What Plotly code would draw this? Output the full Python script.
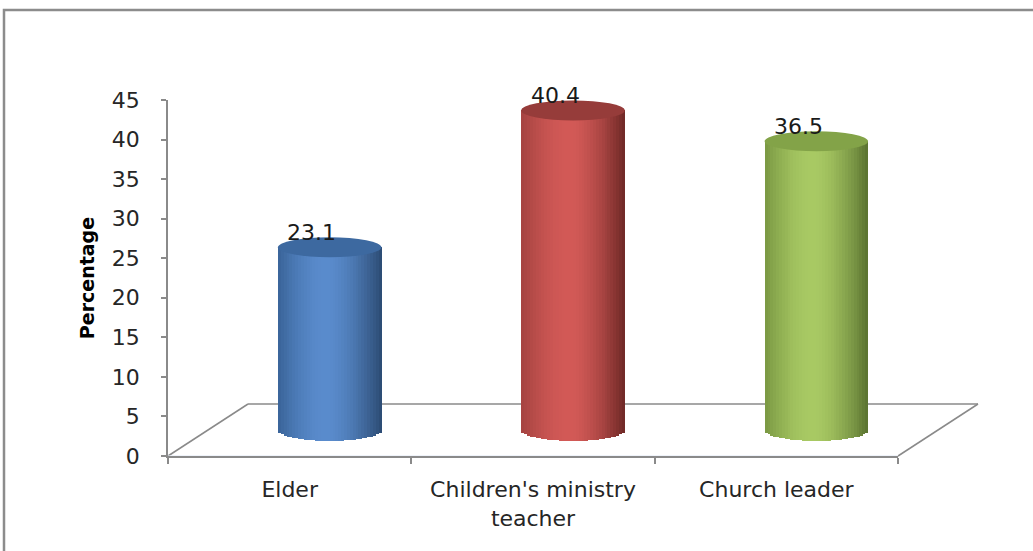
import numpy as np
import plotly.graph_objects as go

# ---------------- data ----------------
categories = ["Elder", "Children's ministry<br>teacher", "Church leader"]
values = [23.1, 40.4, 36.5]
labels = ["23.1", "40.4", "36.5"]
y_ticks = [0, 5, 10, 15, 20, 25, 30, 35, 40, 45]

# colour ramps (left edge, highlight, right edge) and cap colour per cylinder
side_left = ["#3A6499", "#A54341", "#7A9843"]
side_mid = ["#5A8CCD", "#D35A57", "#A9CA64"]
side_right = ["#2C4B73", "#6E2826", "#5A7330"]
cap_col = ["#3D69A0", "#963C3A", "#83A348"]

# ---------------- geometry (pixels) ----------------
W, H = 1033, 551
left_px, right_px = 168, 980       # plot area x
top_px, bottom_px = 74, 456        # plot area y
front_w = 730                      # width of front axis
front_h = 356                      # height of 0..45 on front axis
depth = (80, -52)                  # floor depth vector in px
pw, ph = right_px - left_px, bottom_px - top_px
pxu = front_h / 45.0               # px per unit

def px2paper(x, y):
    return (x - left_px) / pw, (bottom_px - y) / ph

bar_w = 0.425
n_slices = 36
cap_h = 10 / pxu
bot_h = 11 / pxu


def hex2rgb(h):
    h = h.lstrip("#")
    return np.array([int(h[i:i + 2], 16) for i in (0, 2, 4)], float)


def ramp(c0, c1, c2, u):
    # u in [-1,1]; highlight slightly left of centre
    a, b, c = hex2rgb(c0), hex2rgb(c1), hex2rgb(c2)
    pk = -0.05
    if u <= pk:
        t = (u + 1) / (pk + 1)
        t = np.sin(t * np.pi / 2)
        col = a + (b - a) * t
    else:
        t = (u - pk) / (1 - pk)
        t = t ** 1.6
        col = b + (c - b) * t
    return "rgb(%d,%d,%d)" % tuple(np.clip(col, 0, 255))


fig = go.Figure()

# invisible trace on front axes to establish category axis
fig.add_trace(go.Bar(x=categories, y=[0, 0, 0], xaxis="x", yaxis="y",
                     marker=dict(color="rgba(0,0,0,0)"), showlegend=False,
                     hoverinfo="skip"))

xs = list(range(len(values)))
sw = bar_w / n_slices
for i in range(n_slices):
    u = -1 + (i + 0.5) * 2 / n_slices
    base = -bot_h * np.sqrt(max(0.0, 1 - u * u))
    cols = [ramp(side_left[k], side_mid[k], side_right[k], u) for k in xs]
    fig.add_trace(go.Bar(
        x=xs, y=[v - base for v in values], base=[base] * len(values),
        offset=-bar_w / 2 + i * sw, width=sw * 1.08,
        marker=dict(color=cols, line=dict(width=0)),
        xaxis="x2", yaxis="y2", showlegend=False, hoverinfo="skip"))

shapes = []
for k, v in enumerate(values):
    shapes.append(dict(type="circle", xref="x2", yref="y2",
                       x0=k - bar_w / 2, x1=k + bar_w / 2,
                       y0=v - cap_h, y1=v + cap_h,
                       fillcolor=cap_col[k], line=dict(width=0), layer="above"))

# floor parallelogram (front edge is the x axis line)
fl = "#8A8A8A"
x0f, yf = left_px, bottom_px
x1f = left_px + front_w
pts = [((x0f, yf), (x0f + depth[0], yf + depth[1])),
       ((x0f + depth[0], yf + depth[1]), (x1f + depth[0], yf + depth[1])),
       ((x1f, yf), (x1f + depth[0], yf + depth[1]))]
for (a, b) in pts:
    xa, ya = px2paper(*a)
    xb, yb = px2paper(*b)
    shapes.append(dict(type="line", xref="paper", yref="paper",
                       x0=xa, y0=ya, x1=xb, y1=yb,
                       line=dict(color=fl, width=1.5), layer="below"))

# outer frame
fx0, fy0 = px2paper(4, 10)
fx1, fy1 = px2paper(W + 20, H + 20)
shapes.append(dict(type="rect", xref="paper", yref="paper",
                   x0=fx0, y0=fy1, x1=fx1, y1=fy0,
                   line=dict(color="#8C8C8C", width=2.5), layer="below"))

annotations = []
for k, v in enumerate(values):
    annotations.append(dict(x=k, y=v + cap_h, xref="x2", yref="y2",
                            text=labels[k], showarrow=False,
                            xshift=-18, yshift=5, yanchor="middle",
                            font=dict(family="DejaVu Sans", size=22,
                                      color="#1A1A1A")))

font_main = dict(family="DejaVu Sans", size=22, color="#262626")

fig.update_layout(
    width=W, height=H,
    margin=dict(l=left_px, r=W - right_px, t=top_px, b=H - bottom_px),
    paper_bgcolor="white", plot_bgcolor="rgba(0,0,0,0)",
    barmode="overlay", bargap=0,
    showlegend=False,
    shapes=shapes, annotations=annotations,
    xaxis=dict(domain=[0, front_w / pw], anchor="y", type="category",
               range=[-0.5, 2.5], showline=True, linecolor=fl, linewidth=1.5,
               ticks="outside", tickson="boundaries", ticklen=6,
               tickcolor=fl, tickwidth=1.5, showgrid=False,
               tickfont=font_main, ticklabelstandoff=13, fixedrange=True),
    yaxis=dict(domain=[0, front_h / ph], anchor="x", range=[0, 45],
               tickvals=y_ticks, showline=True, linecolor=fl, linewidth=1.5,
               ticks="outside", ticklen=5, tickcolor=fl, tickwidth=1.5,
               showgrid=False, zeroline=False, tickfont=font_main,
               ticklabelstandoff=17,
               title=dict(text="<b>Percentage</b>", standoff=12,
                          font=dict(family="DejaVu Sans", size=19,
                                    color="#000000"))),
    xaxis2=dict(domain=[depth[0] / 2 / pw, (front_w + depth[0] / 2) / pw],
                anchor="y2", range=[-0.5, 2.5], visible=False),
    yaxis2=dict(domain=[0, 1], anchor="x2",
                range=[-(-depth[1] / 2) / pxu, 45], visible=False),
)

fig.write_html("out.html")
